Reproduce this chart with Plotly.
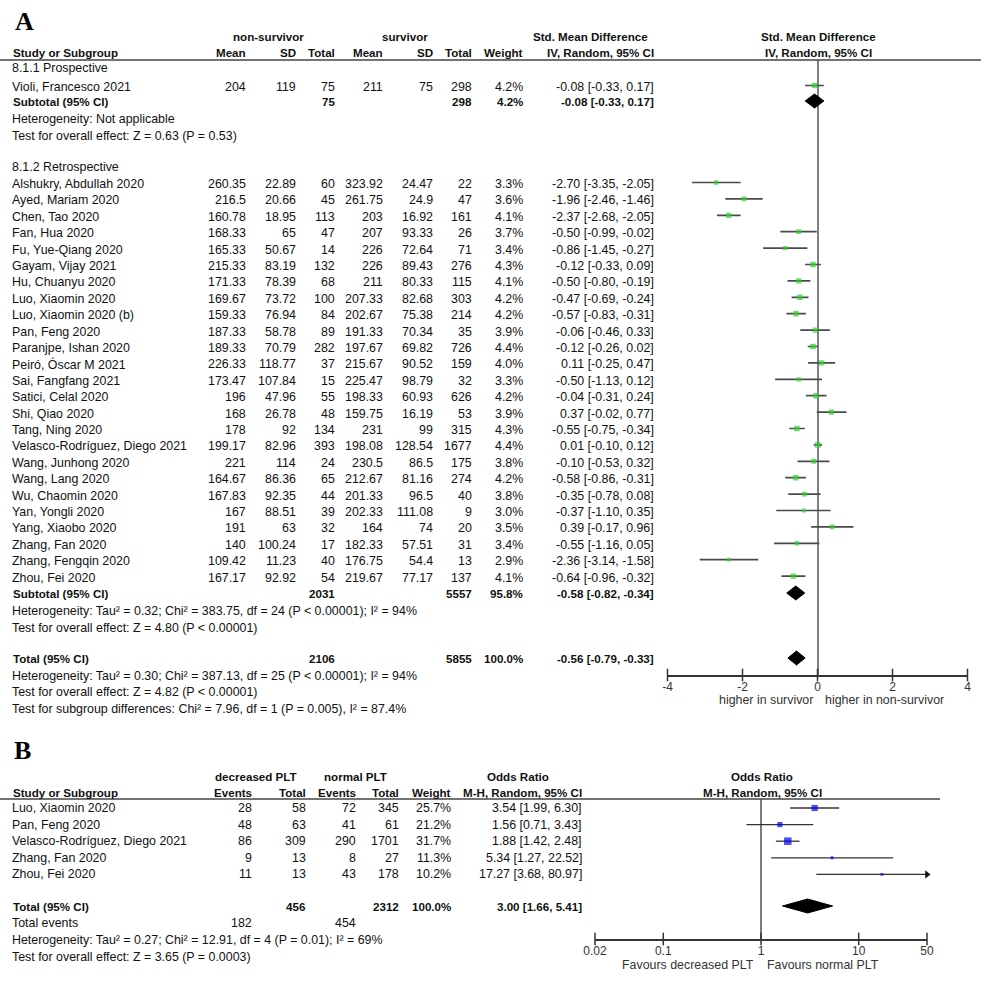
import math
import plotly.graph_objects as go

W, H = 1000, 984
FONT = "Liberation Sans, Arial, sans-serif"
SERIF = "Liberation Serif, Times New Roman, serif"
TXT = "#111111"
FS = 12.4
FB = 11.6

# ---------------- Panel A data (Std. Mean Difference) ----------------
a_groups = ["8.1.1 Prospective", "8.1.2 Retrospective"]
a_study = [
    "Violi, Francesco 2021",
    "Alshukry, Abdullah 2020", "Ayed, Mariam 2020", "Chen, Tao 2020", "Fan, Hua 2020",
    "Fu, Yue-Qiang 2020", "Gayam, Vijay 2021", "Hu, Chuanyu 2020", "Luo, Xiaomin 2020",
    "Luo, Xiaomin 2020 (b)", "Pan, Feng 2020", "Paranjpe, Ishan 2020", "Peiró, Óscar M 2021",
    "Sai, Fangfang 2021", "Satici, Celal 2020", "Shi, Qiao 2020", "Tang, Ning 2020",
    "Velasco-Rodríguez, Diego 2021", "Wang, Junhong 2020", "Wang, Lang 2020",
    "Wu, Chaomin 2020", "Yan, Yongli 2020", "Yang, Xiaobo 2020", "Zhang, Fan 2020",
    "Zhang, Fengqin 2020", "Zhou, Fei 2020",
]
a_group = [0] + [1] * 25
a_ns_mean = [204, 260.35, 216.5, 160.78, 168.33, 165.33, 215.33, 171.33, 169.67, 159.33, 187.33,
             189.33, 226.33, 173.47, 196, 168, 178, 199.17, 221, 164.67, 167.83, 167, 191, 140,
             109.42, 167.17]
a_ns_sd = [119, 22.89, 20.66, 18.95, 65, 50.67, 83.19, 78.39, 73.72, 76.94, 58.78, 70.79, 118.77,
           107.84, 47.96, 26.78, 92, 82.96, 114, 86.36, 92.35, 88.51, 63, 100.24, 11.23, 92.92]
a_ns_n = [75, 60, 45, 113, 47, 14, 132, 68, 100, 84, 89, 282, 37, 15, 55, 48, 134, 393, 24, 65,
          44, 39, 32, 17, 40, 54]
a_s_mean = [211, 323.92, 261.75, 203, 207, 226, 226, 211, 207.33, 202.67, 191.33, 197.67, 215.67,
            225.47, 198.33, 159.75, 231, 198.08, 230.5, 212.67, 201.33, 202.33, 164, 182.33,
            176.75, 219.67]
a_s_sd = [75, 24.47, 24.9, 16.92, 93.33, 72.64, 89.43, 80.33, 82.68, 75.38, 70.34, 69.82, 90.52,
          98.79, 60.93, 16.19, 99, 128.54, 86.5, 81.16, 96.5, 111.08, 74, 57.51, 54.4, 77.17]
a_s_n = [298, 22, 47, 161, 26, 71, 276, 115, 303, 214, 35, 726, 159, 32, 626, 53, 315, 1677, 175,
         274, 40, 9, 20, 31, 13, 137]
a_weight = [4.2, 3.3, 3.6, 4.1, 3.7, 3.4, 4.3, 4.1, 4.2, 4.2, 3.9, 4.4, 4.0, 3.3, 4.2, 3.9, 4.3,
            4.4, 3.8, 4.2, 3.8, 3.0, 3.5, 3.4, 2.9, 4.1]
a_smd = [-0.08, -2.70, -1.96, -2.37, -0.50, -0.86, -0.12, -0.50, -0.47, -0.57, -0.06, -0.12, 0.11,
         -0.50, -0.04, 0.37, -0.55, 0.01, -0.10, -0.58, -0.35, -0.37, 0.39, -0.55, -2.36, -0.64]
a_lo = [-0.33, -3.35, -2.46, -2.68, -0.99, -1.45, -0.33, -0.80, -0.69, -0.83, -0.46, -0.26, -0.25,
        -1.13, -0.31, -0.02, -0.75, -0.10, -0.53, -0.86, -0.78, -1.10, -0.17, -1.16, -3.14, -0.96]
a_hi = [0.17, -2.05, -1.46, -2.05, -0.02, -0.27, 0.09, -0.19, -0.24, -0.31, 0.33, 0.02, 0.47, 0.12,
        0.24, 0.77, -0.34, 0.12, 0.32, -0.31, 0.08, 0.35, 0.96, 0.05, -1.58, -0.32]

a_sub_ns_n = [75, 2031]
a_sub_s_n = [298, 5557]
a_sub_w = [4.2, 95.8]
a_sub_smd = [-0.08, -0.58]
a_sub_lo = [-0.33, -0.82]
a_sub_hi = [0.17, -0.34]
a_sub_het = ["Heterogeneity: Not applicable",
             "Heterogeneity: Tau² = 0.32; Chi² = 383.75, df = 24 (P < 0.00001); I² = 94%"]
a_sub_test = ["Test for overall effect: Z = 0.63 (P = 0.53)",
              "Test for overall effect: Z = 4.80 (P < 0.00001)"]
a_tot_ns_n = 2106
a_tot_s_n = 5855
a_tot_w = 100.0
a_tot_smd = -0.56
a_tot_lo = -0.79
a_tot_hi = -0.33
a_tot_notes = ["Heterogeneity: Tau² = 0.30; Chi² = 387.13, df = 25 (P < 0.00001); I² = 94%",
               "Test for overall effect: Z = 4.82 (P < 0.00001)",
               "Test for subgroup differences: Chi² = 7.96, df = 1 (P = 0.005), I² = 87.4%"]
a_ticks = [-4, -2, 0, 2, 4]
a_favours = ["higher in survivor", "higher in non-survivor"]

# ---------------- Panel B data (Odds Ratio) ----------------
b_study = ["Luo, Xiaomin 2020", "Pan, Feng 2020", "Velasco-Rodríguez, Diego 2021",
           "Zhang, Fan 2020", "Zhou, Fei 2020"]
b_dec_ev = [28, 48, 86, 9, 11]
b_dec_n = [58, 63, 309, 13, 13]
b_nor_ev = [72, 41, 290, 8, 43]
b_nor_n = [345, 61, 1701, 27, 178]
b_weight = [25.7, 21.2, 31.7, 11.3, 10.2]
b_or = [3.54, 1.56, 1.88, 5.34, 17.27]
b_lo = [1.99, 0.71, 1.42, 1.27, 3.68]
b_hi = [6.30, 3.43, 2.48, 22.52, 80.97]
b_tot_dec_n = 456
b_tot_nor_n = 2312
b_tot_w = 100.0
b_tot_or = 3.00
b_tot_lo = 1.66
b_tot_hi = 5.41
b_tot_dec_ev = 182
b_tot_nor_ev = 454
b_notes = ["Heterogeneity: Tau² = 0.27; Chi² = 12.91, df = 4 (P = 0.01); I² = 69%",
           "Test for overall effect: Z = 3.65 (P = 0.0003)"]
b_ticks = [0.02, 0.1, 1, 10, 50]
b_favours = ["Favours decreased PLT", "Favours normal PLT"]

# ---------------- layout helpers ----------------
ann = []


def txt(x, y, s, anchor="left", bold=False, size=FS, family=FONT, color=TXT):
    ann.append(dict(x=x / W, y=1 - y / H, xref="paper", yref="paper",
                    text=f"<b>{s}</b>" if bold else s, xanchor=anchor, yanchor="middle",
                    showarrow=False, borderpad=0,
                    font=dict(family=family, size=size, color=color)))


def g(v):
    return f"{v:g}"


def ci(e, l, h):
    return f"{e:.2f} [{l:.2f}, {h:.2f}]"


# row positions (pixels)
A_HDR1, A_HDR2, A_LINE = 36, 52, 60
A_AXIS = 675
a_rows_y = []
for i, grp in enumerate(a_group):
    a_rows_y.append(87 if grp == 0 else 184 + 16.4 * (i - 1))
a_grp_y = [68, 167]
a_sub_y = [101, 593]
a_het_y = [119, 611]
a_test_y = [136, 628]
a_tot_y = 658
a_note_y = [676, 692, 709]

cA = dict(name=12, ns_mean=247, ns_sd=297, ns_n=336, s_mean=384, s_sd=434, s_n=473, w=524, ci=655)

fig = go.Figure()

# ---------- Panel A text ----------
txt(14, 21, "A", bold=True, size=26, family=SERIF, color="#000")
txt(268, A_HDR1, "non-survivor", "center", True, FB)
txt(405, A_HDR1, "survivor", "center", True, FB)
txt(590, A_HDR1, "Std. Mean Difference", "center", True, FB)
txt(818, A_HDR1, "Std. Mean Difference", "center", True, FB)
txt(cA["name"], A_HDR2, "Study or Subgroup", "left", True, FB)
for k, s in [("ns_mean", "Mean"), ("ns_sd", "SD"), ("ns_n", "Total"), ("s_mean", "Mean"),
             ("s_sd", "SD"), ("s_n", "Total"), ("w", "Weight"), ("ci", "IV, Random, 95% CI")]:
    txt(cA[k], A_HDR2, s, "right", True, FB)
txt(818, A_HDR2, "IV, Random, 95% CI", "center", True, FB)

for gi, gname in enumerate(a_groups):
    txt(cA["name"] - 1, a_grp_y[gi], gname)
for i, name in enumerate(a_study):
    y = a_rows_y[i]
    txt(cA["name"] - 1, y, name)
    txt(cA["ns_mean"], y, g(a_ns_mean[i]), "right")
    txt(cA["ns_sd"], y, g(a_ns_sd[i]), "right")
    txt(cA["ns_n"], y, g(a_ns_n[i]), "right")
    txt(cA["s_mean"], y, g(a_s_mean[i]), "right")
    txt(cA["s_sd"], y, g(a_s_sd[i]), "right")
    txt(cA["s_n"], y, g(a_s_n[i]), "right")
    txt(cA["w"], y, f"{a_weight[i]:.1f}%", "right")
    txt(cA["ci"], y, ci(a_smd[i], a_lo[i], a_hi[i]), "right")
for gi in range(2):
    y = a_sub_y[gi]
    txt(cA["name"], y, "Subtotal (95% CI)", "left", True, FB)
    txt(cA["ns_n"], y, g(a_sub_ns_n[gi]), "right", True, FB)
    txt(cA["s_n"], y, g(a_sub_s_n[gi]), "right", True, FB)
    txt(cA["w"], y, f"{a_sub_w[gi]:.1f}%", "right", True, FB)
    txt(cA["ci"], y, ci(a_sub_smd[gi], a_sub_lo[gi], a_sub_hi[gi]), "right", True, FB)
    txt(cA["name"] - 1, a_het_y[gi], a_sub_het[gi])
    txt(cA["name"] - 1, a_test_y[gi], a_sub_test[gi])
txt(cA["name"], a_tot_y, "Total (95% CI)", "left", True, FB)
txt(cA["ns_n"], a_tot_y, g(a_tot_ns_n), "right", True, FB)
txt(cA["s_n"], a_tot_y, g(a_tot_s_n), "right", True, FB)
txt(cA["w"], a_tot_y, f"{a_tot_w:.1f}%", "right", True, FB)
txt(cA["ci"], a_tot_y, ci(a_tot_smd, a_tot_lo, a_tot_hi), "right", True, FB)
for j, s in enumerate(a_tot_notes):
    txt(cA["name"] - 1, a_note_y[j], s)
txt(766, 700, a_favours[0], "center", color="#333")
txt(884, 700, a_favours[1], "center", color="#333")

# ---------- Panel A marks ----------
lx, ly = [], []
for i in range(len(a_study)):
    lx += [a_lo[i], a_hi[i], None]
    ly += [a_rows_y[i] - 1.5, a_rows_y[i] - 1.5, None]
fig.add_trace(go.Scatter(x=lx, y=ly, mode="lines", line=dict(color="#4a4a4a", width=1.7),
                         xaxis="x", yaxis="y", hoverinfo="skip"))
fig.add_trace(go.Scatter(x=a_smd, y=[v - 1.5 for v in a_rows_y], mode="markers",
                         marker=dict(symbol="square", color="#2fd12f",
                                     size=[w * 1.3 for w in a_weight], line=dict(width=0)),
                         xaxis="x", yaxis="y"))
dia = [(a_sub_smd[k], a_sub_lo[k], a_sub_hi[k], a_sub_y[k]) for k in range(2)]
dia.append((a_tot_smd, a_tot_lo, a_tot_hi, a_tot_y))
for e, l, h, y in dia:
    fig.add_trace(go.Scatter(x=[l, e, h, e, l], y=[y, y - 7, y, y + 7, y], mode="lines",
                             fill="toself", fillcolor="#000", line=dict(color="#000", width=1),
                             xaxis="x", yaxis="y"))
fig.add_trace(go.Scatter(x=a_ticks, y=[A_AXIS] * len(a_ticks), mode="markers",
                         marker=dict(symbol="line-ns", size=9, line=dict(color="#333", width=1.5)),
                         xaxis="x", yaxis="y", cliponaxis=False))

# ---------- Panel B text ----------
B_HDR1, B_HDR2, B_LINE, B_AXIS = 776, 792, 799, 939
b_rows_y = [808 + 16.6 * i for i in range(len(b_study))]
b_tot_y, b_ev_y = 906, 923
b_note_y = [940, 957]
cB = dict(name=12, d_ev=253, d_n=307, n_ev=357, n_n=400, w=452, ci=583)

txt(13, 750, "B", bold=True, size=26, family=SERIF, color="#000")
txt(256, B_HDR1, "decreased PLT", "center", True, FB)
txt(355, B_HDR1, "normal PLT", "center", True, FB)
txt(518, B_HDR1, "Odds Ratio", "center", True, FB)
txt(762, B_HDR1, "Odds Ratio", "center", True, FB)
txt(cB["name"], B_HDR2, "Study or Subgroup", "left", True, FB)
for k, s in [("d_ev", "Events"), ("d_n", "Total"), ("n_ev", "Events"), ("n_n", "Total"),
             ("w", "Weight"), ("ci", "M-H, Random, 95% CI")]:
    txt(cB[k], B_HDR2, s, "right", True, FB)
txt(762, B_HDR2, "M-H, Random, 95% CI", "center", True, FB)
for i, name in enumerate(b_study):
    y = b_rows_y[i]
    txt(cB["name"] - 1, y, name)
    txt(cB["d_ev"], y, g(b_dec_ev[i]), "right")
    txt(cB["d_n"], y, g(b_dec_n[i]), "right")
    txt(cB["n_ev"], y, g(b_nor_ev[i]), "right")
    txt(cB["n_n"], y, g(b_nor_n[i]), "right")
    txt(cB["w"], y, f"{b_weight[i]:.1f}%", "right")
    txt(cB["ci"], y, ci(b_or[i], b_lo[i], b_hi[i]), "right")
txt(cB["name"], b_tot_y, "Total (95% CI)", "left", True, FB)
txt(cB["d_n"], b_tot_y, g(b_tot_dec_n), "right", True, FB)
txt(cB["n_n"], b_tot_y, g(b_tot_nor_n), "right", True, FB)
txt(cB["w"], b_tot_y, f"{b_tot_w:.1f}%", "right", True, FB)
txt(cB["ci"], b_tot_y, ci(b_tot_or, b_tot_lo, b_tot_hi), "right", True, FB)
txt(cB["name"] - 1, b_ev_y, "Total events")
txt(cB["d_ev"], b_ev_y, g(b_tot_dec_ev), "right")
txt(cB["n_ev"], b_ev_y, g(b_tot_nor_ev), "right")
for j, s in enumerate(b_notes):
    txt(cB["name"] - 1, b_note_y[j], s)
txt(688, 965, b_favours[0], "center", color="#333")
txt(823, 965, b_favours[1], "center", color="#333")

# ---------- Panel B marks ----------
B_MAX = b_ticks[-1]
lx, ly = [], []
for i in range(len(b_study)):
    lx += [b_lo[i], min(b_hi[i], B_MAX), None]
    ly += [b_rows_y[i], b_rows_y[i], None]
fig.add_trace(go.Scatter(x=[1, 1], y=[B_LINE, B_AXIS], mode="lines",
                         line=dict(color="#222", width=1.2), xaxis="x2", yaxis="y2"))
fig.add_trace(go.Scatter(x=lx, y=ly, mode="lines", line=dict(color="#333", width=1.3),
                         xaxis="x2", yaxis="y2", cliponaxis=False))
arr = [i for i in range(len(b_study)) if b_hi[i] > B_MAX]
fig.add_trace(go.Scatter(x=[B_MAX] * len(arr), y=[b_rows_y[i] for i in arr], mode="markers",
                         marker=dict(symbol="triangle-right", size=7, color="#111"),
                         xaxis="x2", yaxis="y2", cliponaxis=False))
fig.add_trace(go.Scatter(x=b_or, y=b_rows_y, mode="markers",
                         marker=dict(symbol="square", color="#0000ee",
                                     size=[0.22 * w + 0.5 for w in b_weight], line=dict(width=0)),
                         xaxis="x2", yaxis="y2"))
fig.add_trace(go.Scatter(x=[b_tot_lo, b_tot_or, b_tot_hi, b_tot_or, b_tot_lo],
                         y=[b_tot_y, b_tot_y - 7, b_tot_y, b_tot_y + 7, b_tot_y], mode="lines",
                         fill="toself", fillcolor="#000", line=dict(color="#000", width=1),
                         xaxis="x2", yaxis="y2"))
fig.add_trace(go.Scatter(x=b_ticks, y=[B_AXIS] * len(b_ticks), mode="markers",
                         marker=dict(symbol="line-ns", size=9, line=dict(color="#333", width=1.5)),
                         xaxis="x2", yaxis="y2", cliponaxis=False))

shapes = [
    dict(type="line", xref="paper", yref="paper", x0=0, x1=981 / W, y0=1 - A_LINE / H,
         y1=1 - A_LINE / H, line=dict(color="#444", width=1.5)),
    dict(type="line", xref="paper", yref="paper", x0=0, x1=940 / W, y0=1 - B_LINE / H,
         y1=1 - B_LINE / H, line=dict(color="#444", width=1.5)),
]

fig.update_layout(
    width=W, height=H, margin=dict(l=0, r=0, t=0, b=0, pad=0, autoexpand=False),
    paper_bgcolor="white", plot_bgcolor="white", showlegend=False,
    annotations=ann, shapes=shapes,
    xaxis=dict(domain=[667.5 / W, 967.5 / W], range=[-4, 4], anchor="y",
               showline=True, linecolor="#333", linewidth=1.5, ticks="", automargin=False,
               tickvals=a_ticks, ticktext=[str(t) for t in a_ticks],
               tickfont=dict(family=FONT, size=12, color="#333"),
               zeroline=True, zerolinecolor="#808080", zerolinewidth=2,
               showgrid=False, fixedrange=True),
    yaxis=dict(domain=[1 - A_AXIS / H, 1 - A_LINE / H], range=[A_AXIS, A_LINE],
               visible=False, fixedrange=True, automargin=False),
    xaxis2=dict(type="log", domain=[595 / W, 927 / W],
                range=[math.log10(b_ticks[0]), math.log10(b_ticks[-1])], anchor="y2",
                showline=True, linecolor="#333", linewidth=1.5, ticks="", automargin=False,
                tickvals=b_ticks, ticktext=[g(t) for t in b_ticks],
                tickfont=dict(family=FONT, size=12, color="#333"),
                showgrid=False, zeroline=False, fixedrange=True),
    yaxis2=dict(domain=[1 - B_AXIS / H, 1 - B_LINE / H], range=[B_AXIS, B_LINE],
                visible=False, fixedrange=True, automargin=False),
)

fig.write_html("out.html", config={"displayModeBar": False},
               post_script="document.body.style.margin='0';document.body.style.overflow='hidden';")
